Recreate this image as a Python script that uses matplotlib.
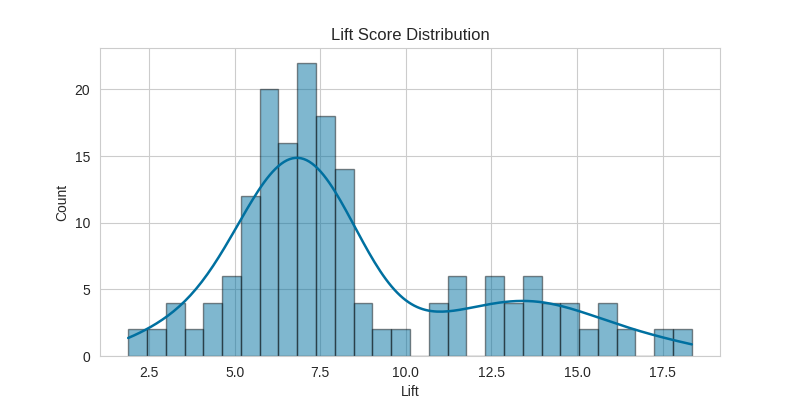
import numpy as np
import seaborn as sns
from matplotlib import pyplot as plt

# histogram: 30 equal bins between min and max lift
lift_min = 1.89
lift_max = 18.35
bin_counts = [2, 2, 4, 2, 4, 6, 12, 20, 16, 22, 18, 14, 4, 2, 2,
              0, 4, 6, 0, 6, 4, 6, 4, 4, 2, 4, 2, 0, 2, 2]

edges = np.linspace(lift_min, lift_max, len(bin_counts) + 1)
centers = (edges[:-1] + edges[1:]) / 2
lift = np.repeat(centers, bin_counts)

sns.set_style("whitegrid")
plt.rcParams['font.family'] = ['Liberation Sans', 'DejaVu Sans']

fig, ax = plt.subplots(figsize=(8, 4), dpi=100)
sns.histplot(x=lift, bins=edges, kde=True, color="#0070a0", ax=ax,
             edgecolor=(0, 0, 0, 0.45), linewidth=1.0, alpha=0.5,
             kde_kws=dict(cut=3, clip=(lift_min, lift_max)),
             line_kws=dict(linewidth=1.8))
ax.set_title("Lift Score Distribution")
ax.set_xlabel("Lift")
ax.set_ylabel("Count")

plt.savefig("out.png")
